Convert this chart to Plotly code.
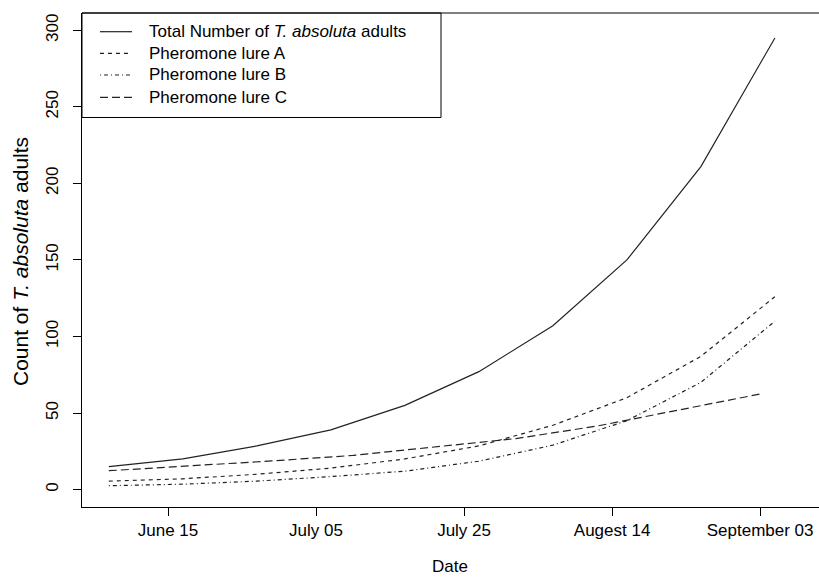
import plotly.graph_objects as go

# ---- data ----
dates = ["2014-06-07", "2014-06-17", "2014-06-27", "2014-07-07", "2014-07-17",
         "2014-07-27", "2014-08-06", "2014-08-16", "2014-08-26", "2014-09-05"]
total = [15, 20, 28.5, 39, 55, 77, 107, 150, 211, 295]
lure_a = [5.5, 7, 10, 14, 20, 28.5, 42, 60, 87, 126]
lure_b = [2.5, 3.5, 5.5, 8.5, 12, 18.5, 29, 45, 70, 110]
dates_c = ["2014-06-07", "2014-06-18", "2014-06-29", "2014-07-10", "2014-07-21",
           "2014-08-01", "2014-08-12", "2014-08-23", "2014-09-03"]
lure_c = [12.3, 15.3, 18.7, 22.3, 27.6, 33.3, 41.5, 51.8, 62.4]

tick_dates = ["2014-06-15", "2014-07-05", "2014-07-25", "2014-08-14", "2014-09-03"]
tick_text = ["June 15", "July 05", "July 25", "Augest 14", "September 03"]
y_ticks = [0, 50, 100, 150, 200, 250, 300]

series_names = ["Total Number of <i>T. absoluta</i> adults", "Pheromone lure A",
                "Pheromone lure B", "Pheromone lure C"]

FONT = "Liberation Sans, Arial, Helvetica, sans-serif"
LC = "#222222"
DASHES = ["solid", "4px,4px", "1px,3px,4px,3px", "8px,4px"]

fig = go.Figure()
series = [(dates, total), (dates, lure_a), (dates, lure_b), (dates_c, lure_c)]
for (xs, ys), nm, dsh in zip(series, series_names, DASHES):
    fig.add_trace(go.Scatter(x=xs, y=ys, mode="lines", name=nm, showlegend=False,
                             hoverinfo="skip",
                             line=dict(color=LC, width=1.2, dash=dsh)))

L, T, B = 82, 13, 70
W, H = 819, 577
pw = W - L
ph = H - T - B


def px(x):
    return (x - L) / pw


def py(y):
    return (H - B - y) / ph


shapes = [
    dict(type="line", xref="paper", yref="paper", x0=0, x1=1, y0=1, y1=1,
         line=dict(color="black", width=1)),
    dict(type="rect", xref="paper", yref="paper",
         x0=0, x1=px(441), y0=py(117.5), y1=1,
         line=dict(color="black", width=1)),
]
annotations = [
    dict(text="Date", xref="paper", yref="paper", x=px(450), y=py(566),
         xanchor="center", yanchor="middle", showarrow=False,
         font=dict(size=17, family=FONT, color="black")),
    dict(text="Count of <i>T. absoluta</i> adults", xref="paper", yref="paper",
         x=px(20), y=py(262), xanchor="center", yanchor="middle",
         textangle=-90, showarrow=False,
         font=dict(size=21, family=FONT, color="black")),
]
row_y = [31.7, 53.3, 75.0, 97.3]
for ry, nm, dsh in zip(row_y, series_names, DASHES):
    shapes.append(dict(type="line", xref="paper", yref="paper",
                       x0=px(100), x1=px(132), y0=py(ry), y1=py(ry),
                       line=dict(color=LC, width=1.2, dash=dsh)))
    annotations.append(dict(text=nm, xref="paper", yref="paper",
                            x=px(147), y=py(ry), xanchor="left", yanchor="middle",
                            showarrow=False,
                            font=dict(size=17, family=FONT, color="black")))

fig.update_layout(
    width=W, height=H,
    margin=dict(l=L, r=0, t=T, b=B, pad=0),
    paper_bgcolor="white", plot_bgcolor="white",
    font=dict(family=FONT, size=17, color="black"),
    showlegend=False,
    hovermode=False,
    xaxis=dict(type="date", range=["2014-06-03 09:00", "2014-09-10 23:00"],
               tickvals=tick_dates, ticktext=tick_text,
               showgrid=False, zeroline=False,
               showline=True, linecolor="black", linewidth=1,
               ticks="outside", ticklen=8, tickcolor="black", tickwidth=1,
               tickfont=dict(size=17, family=FONT, color="black")),
    yaxis=dict(range=[-11.4, 311.3], tickvals=y_ticks,
               showgrid=False, zeroline=False,
               showline=True, linecolor="black", linewidth=1,
               ticks="outside", ticklen=8, tickcolor="black", tickwidth=1,
               tickangle=-90, ticklabelstandoff=8,
               tickfont=dict(size=17, family=FONT, color="black")),
    shapes=shapes,
    annotations=annotations,
)

fig.write_html("out.html", config={"displayModeBar": False, "staticPlot": True},
               post_script="document.body.style.margin='0px';"
                           "document.documentElement.style.overflow='hidden';")
